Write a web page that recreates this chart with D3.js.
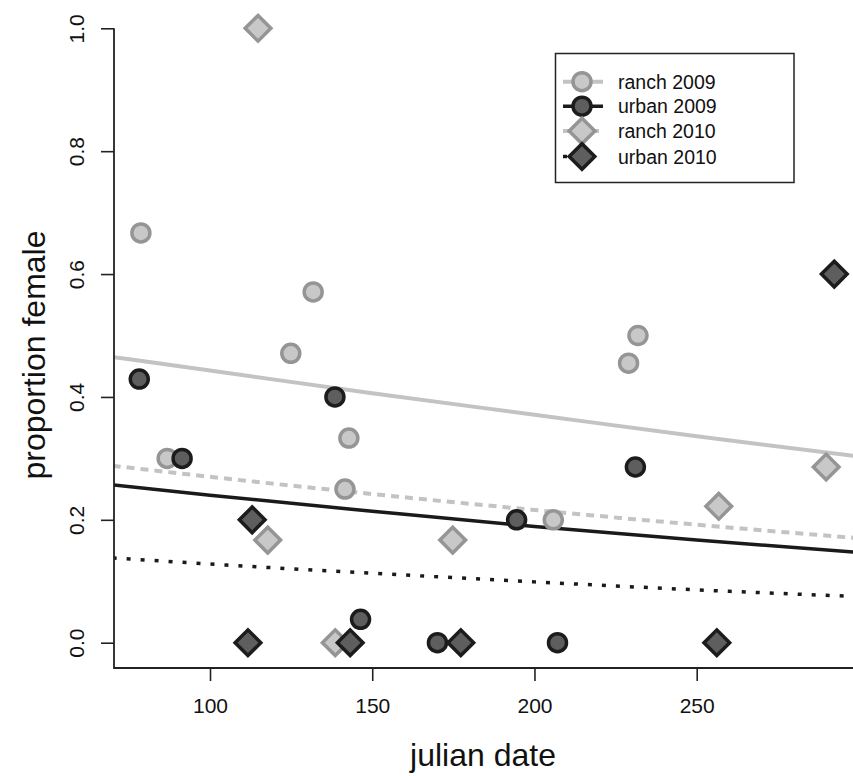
<!DOCTYPE html>
<html>
<head>
<meta charset="utf-8">
<script src="https://cdn.jsdelivr.net/npm/d3@7"></script>
<style>
  body { margin: 0; background: #fff; }
  svg { font-family: "Liberation Sans", Arial, Helvetica, sans-serif; }
</style>
</head>
<body>
<div id="svgArea"></div>
<script>
var width = 853;
var height = 776;

// points
var ranch2009X = [78.7, 131.8, 124.9, 142.8, 86.8, 141.6, 229, 231.9, 205.8];
var ranch2009Y = [0.667, 0.571, 0.471, 0.333, 0.3, 0.25, 0.455, 0.5, 0.2];
var urban2009X = [78.2, 138.5, 91.4, 146.4, 170.1, 194.5, 207.1, 231.1];
var urban2009Y = [0.429, 0.4, 0.3, 0.038, 0, 0.2, 0, 0.286];
var ranch2010X = [114.8, 117.8, 174.8, 138.6, 256.8, 289.9];
var ranch2010Y = [1.0, 0.167, 0.167, 0, 0.222, 0.286];
var urban2010X = [113, 111.7, 143.2, 177.3, 256.2, 292.4];
var urban2010Y = [0.2, 0, 0, 0, 0, 0.6];

// fitted curves
var fitX = [70, 100, 150, 200, 250, 300];
var fitRanch2009 = [0.465, 0.443, 0.406, 0.371, 0.336, 0.303];
var fitUrban2009 = [0.257, 0.240, 0.214, 0.189, 0.167, 0.147];
var fitRanch2010 = [0.288, 0.270, 0.242, 0.216, 0.192, 0.170];
var fitUrban2010 = [0.138, 0.128, 0.113, 0.099, 0.086, 0.075];

var xTicks = [100, 150, 200, 250];
var yTicks = [0, 0.2, 0.4, 0.6, 0.8, 1.0];
var legendLabels = ['ranch 2009', 'urban 2009', 'ranch 2010', 'urban 2010'];

var lightFill = '#c8c8c8', lightEdge = '#959595';
var darkFill = '#5e5e5e', darkEdge = '#1c1c1c';
var lightLine = '#c3c3c3', darkLine = '#1a1a1a';

var svg, xScale, yScale;

var svgBox = () => {
    svg = d3.select('#svgArea')
    .append('svg')
    .attr('width', width)
    .attr('height', height);

    svg.append('clipPath').attr('id', 'plotClip')
    .append('rect')
    .attr('x', 114).attr('y', 0)
    .attr('width', width - 114).attr('height', 668);
};

var scales = () => {
    xScale = d3.scaleLinear()
    .domain([100, 250])
    .range([210, 696.7]);

    yScale = d3.scaleLinear()
    .domain([0, 1])
    .range([642.7, 28.3]);
};

var axes = () => {
    // y axis
    var gy = svg.append('g')
    .attr('transform', 'translate(114,0)')
    .call(d3.axisLeft(yScale).tickValues(yTicks).tickFormat(d3.format('.1f')).tickSize(13).tickSizeOuter(0));
    gy.select('.domain').remove();
    gy.selectAll('.tick line').attr('stroke', '#222').attr('stroke-width', 1.6);
    gy.selectAll('.tick text')
    .attr('x', 0).attr('y', 0)
    .attr('dy', null)
    .attr('transform', 'translate(-30,0) rotate(-90)')
    .attr('text-anchor', 'middle')
    .attr('font-size', 21)
    .attr('fill', '#111');

    // x axis
    var gx = svg.append('g')
    .attr('transform', 'translate(0,668)')
    .call(d3.axisBottom(xScale).tickValues(xTicks).tickSize(13).tickSizeOuter(0));
    gx.select('.domain').remove();
    gx.selectAll('.tick line').attr('stroke', '#222').attr('stroke-width', 1.6);
    gx.selectAll('.tick text')
    .attr('y', 45).attr('dy', null)
    .attr('font-size', 21)
    .attr('fill', '#111');

    // L-shaped frame
    svg.append('path')
    .attr('d', 'M114,28.3 L114,668 L' + width + ',668')
    .attr('fill', 'none')
    .attr('stroke', '#222')
    .attr('stroke-width', 1.8);

    svg.append('text')
    .attr('x', 483).attr('y', 766)
    .attr('text-anchor', 'middle')
    .attr('font-size', 32)
    .attr('fill', '#111')
    .text('julian date');

    svg.append('text')
    .attr('transform', 'translate(45,355) rotate(-90)')
    .attr('text-anchor', 'middle')
    .attr('font-size', 32)
    .attr('fill', '#111')
    .text('proportion female');
};

var fitLine = (vals, color, w, dash) => {
    var line = d3.line()
    .x((d, i) => xScale(fitX[i]))
    .y(d => yScale(d))
    .curve(d3.curveMonotoneX);

    svg.append('path')
    .datum(vals)
    .attr('clip-path', 'url(#plotClip)')
    .attr('d', line)
    .attr('fill', 'none')
    .attr('stroke', color)
    .attr('stroke-width', w)
    .attr('stroke-dasharray', dash);
};

var lines = () => {
    fitLine(fitRanch2009, lightLine, 4, null);
    fitLine(fitUrban2009, darkLine, 3.5, null);
    fitLine(fitRanch2010, lightLine, 4, '8,6');
    fitLine(fitUrban2010, darkLine, 3.5, '4,10');
};

var diamond = d3.symbol().type(d3.symbolSquare).size(330);

var circles = (xs, ys, fill, edge) => {
    svg.append('g').selectAll('circle')
    .data(xs)
    .enter()
    .append('circle')
    .attr('cx', d => xScale(d))
    .attr('cy', (d, i) => yScale(ys[i]))
    .attr('r', 9)
    .attr('fill', fill)
    .attr('stroke', edge)
    .attr('stroke-width', 3.5);
};

var diamonds = (xs, ys, fill, edge) => {
    svg.append('g').selectAll('path')
    .data(xs)
    .enter()
    .append('path')
    .attr('d', diamond)
    .attr('transform', (d, i) => 'translate(' + xScale(d) + ',' + yScale(ys[i]) + ') rotate(45)')
    .attr('fill', fill)
    .attr('stroke', edge)
    .attr('stroke-width', 3.5)
    .attr('stroke-linejoin', 'miter');
};

var dots = () => {
    circles(ranch2009X, ranch2009Y, lightFill, lightEdge);
    circles(urban2009X, urban2009Y, darkFill, darkEdge);
    diamonds(ranch2010X, ranch2010Y, lightFill, lightEdge);
    diamonds(urban2010X, urban2010Y, darkFill, darkEdge);
};

var legend = () => {
    var g = svg.append('g');
    g.append('rect')
    .attr('x', 555.5).attr('y', 53.5)
    .attr('width', 238.5).attr('height', 129)
    .attr('fill', '#fff')
    .attr('stroke', '#222')
    .attr('stroke-width', 1.5);

    var rowY = [81.7, 106.2, 131, 156.5];
    var styles = [
        { color: lightLine, w: 4, dash: null, shape: 'c', fill: lightFill, edge: lightEdge },
        { color: darkLine, w: 3.5, dash: null, shape: 'c', fill: darkFill, edge: darkEdge },
        { color: lightLine, w: 4, dash: '8,6', shape: 'd', fill: lightFill, edge: lightEdge },
        { color: darkLine, w: 3.5, dash: '4,10', shape: 'd', fill: darkFill, edge: darkEdge }
    ];

    legendLabels.forEach((lab, i) => {
        var s = styles[i];
        var y = rowY[i];
        g.append('line')
        .attr('x1', 563).attr('x2', 603)
        .attr('y1', y).attr('y2', y)
        .attr('stroke', s.color)
        .attr('stroke-width', s.w)
        .attr('stroke-dasharray', s.dash);
        if (s.shape == 'c') {
            g.append('circle')
            .attr('cx', 582).attr('cy', y).attr('r', 9)
            .attr('fill', s.fill).attr('stroke', s.edge).attr('stroke-width', 3.5);
        } else {
            g.append('path')
            .attr('d', diamond)
            .attr('transform', 'translate(582,' + y + ') rotate(45)')
            .attr('fill', s.fill).attr('stroke', s.edge).attr('stroke-width', 3.5);
        }
        g.append('text')
        .attr('x', 618).attr('y', y + 7)
        .attr('font-size', 19.5)
        .attr('fill', '#111')
        .text(lab);
    });
};

svgBox();
scales();
lines();
axes();
dots();
legend();
</script>
</body>
</html>
